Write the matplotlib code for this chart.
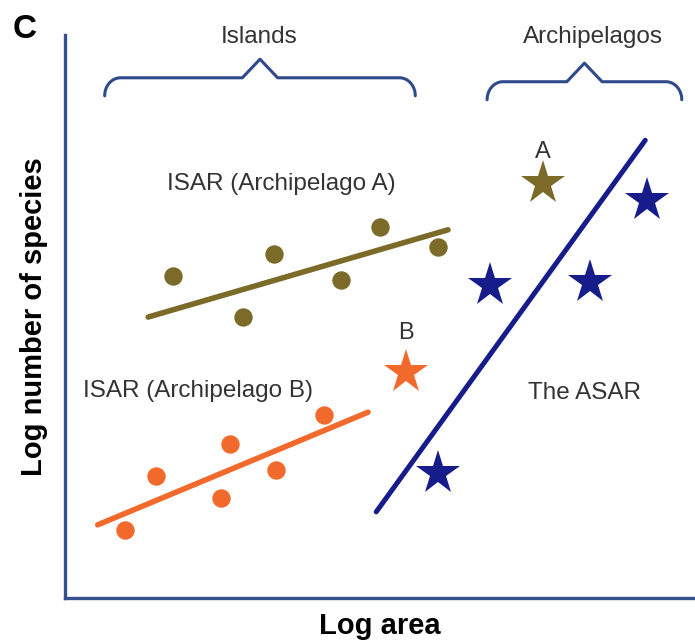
import numpy as np
from matplotlib import pyplot as plt

plt.rcParams['font.family'] = ['Liberation Sans', 'DejaVu Sans']

# islands of archipelago A (log area, log species)
isl_a_x = [1.71, 2.83, 3.32, 4.38, 5.00, 5.92]
isl_a_y = [5.72, 4.99, 6.11, 5.65, 6.59, 6.23]
fit_a_x = [1.32, 6.08]
fit_a_y = [4.99, 6.54]

# islands of archipelago B
isl_b_x = [0.95, 1.44, 2.48, 2.62, 3.35, 4.11]
isl_b_y = [1.21, 2.17, 1.78, 2.74, 2.27, 3.25]
fit_b_x = [0.52, 4.81]
fit_b_y = [1.30, 3.30]

# whole archipelagos
arch_a = (7.59, 7.37)
arch_b = (5.41, 4.01)
arch_x = [6.75, 8.33, 5.92, 9.24]
arch_y = [5.56, 5.61, 2.22, 7.07]
asar_x = [4.94, 9.21]
asar_y = [1.53, 8.13]

olive = "#7b6a28"
orange = "#f26a2b"
navy = "#161c8a"
axis_blue = "#34508f"
txt = "#333333"

# curly brace over a span
def brace(ax, x0, x1, y, h, end=0.32):
    xm = (x0 + x1) / 2
    w = 0.25
    t = np.linspace(0, np.pi / 2, 20)
    # left end curl
    lx = x0 + w * (1 - np.cos(t))
    ly = y - end + end * np.sin(t)
    xs = list(lx) + [xm - 0.28, xm, xm + 0.28] + list(x1 - w * (1 - np.cos(t[::-1])))
    ys = list(ly) + [y, y + h, y] + list(y - end + end * np.sin(t[::-1]))
    ax.plot(xs, ys, color="#2e4a8a", lw=2.2, solid_capstyle="round", clip_on=False)

fig = plt.figure(figsize=(6.95, 6.44), dpi=100)
ax = fig.add_axes([65 / 695, 46 / 644, 630 / 695, 563 / 644])
ax.set_xlim(0, 10)
ax.set_ylim(0, 10)
for s in ["top", "right"]:
    ax.spines[s].set_visible(False)
for s in ["left", "bottom"]:
    ax.spines[s].set_color(axis_blue)
    ax.spines[s].set_linewidth(2.4)
ax.set_xticks([])
ax.set_yticks([])

# ISAR fits
ax.plot(fit_a_x, fit_a_y, color=olive, lw=4, solid_capstyle="round")
ax.scatter(isl_a_x, isl_a_y, s=150, color=olive, zorder=3)
ax.plot(fit_b_x, fit_b_y, color=orange, lw=4, solid_capstyle="round")
ax.scatter(isl_b_x, isl_b_y, s=150, color=orange, zorder=3)

# ASAR
ax.plot(asar_x, asar_y, color=navy, lw=3.6, solid_capstyle="round")
ax.plot(arch_x, arch_y, "*", ms=33, color=navy, mew=0)
ax.plot(arch_a[0], arch_a[1], "*", ms=33, color=olive, mew=0)
ax.plot(arch_b[0], arch_b[1], "*", ms=33, color=orange, mew=0)
ax.text(arch_a[0], arch_a[1] + 0.55, "A", fontsize=17, color=txt, ha="center", va="center")
ax.text(arch_b[0], arch_b[1] + 0.70, "B", fontsize=17, color=txt, ha="center", va="center")

ax.text(3.44, 7.35, "ISAR (Archipelago A)", fontsize=17.5, color=txt, ha="center", va="center")
ax.text(2.11, 3.68, "ISAR (Archipelago B)", fontsize=17.5, color=txt, ha="center", va="center")
ax.text(8.25, 3.64, "The ASAR", fontsize=17.5, color=txt, ha="center", va="center")

# braces and group labels
brace(ax, 0.63, 5.56, 9.24, 0.33)
brace(ax, 6.70, 9.79, 9.17, 0.33)
ax.text(3.08, 9.96, "Islands", fontsize=17.5, color=txt, ha="center", va="center", clip_on=False)
ax.text(8.38, 9.96, "Archipelagos", fontsize=17.5, color=txt, ha="center", va="center", clip_on=False)

ax.set_xlabel("Log area", fontsize=21, fontweight="bold", labelpad=10)
ax.set_ylabel("Log number of species", fontsize=21, fontweight="bold", labelpad=12)
fig.text(25 / 695, 1 - 30 / 644, "C", fontsize=24, fontweight="bold", ha="center", va="center")

fig.savefig("out.png", dpi=100)
